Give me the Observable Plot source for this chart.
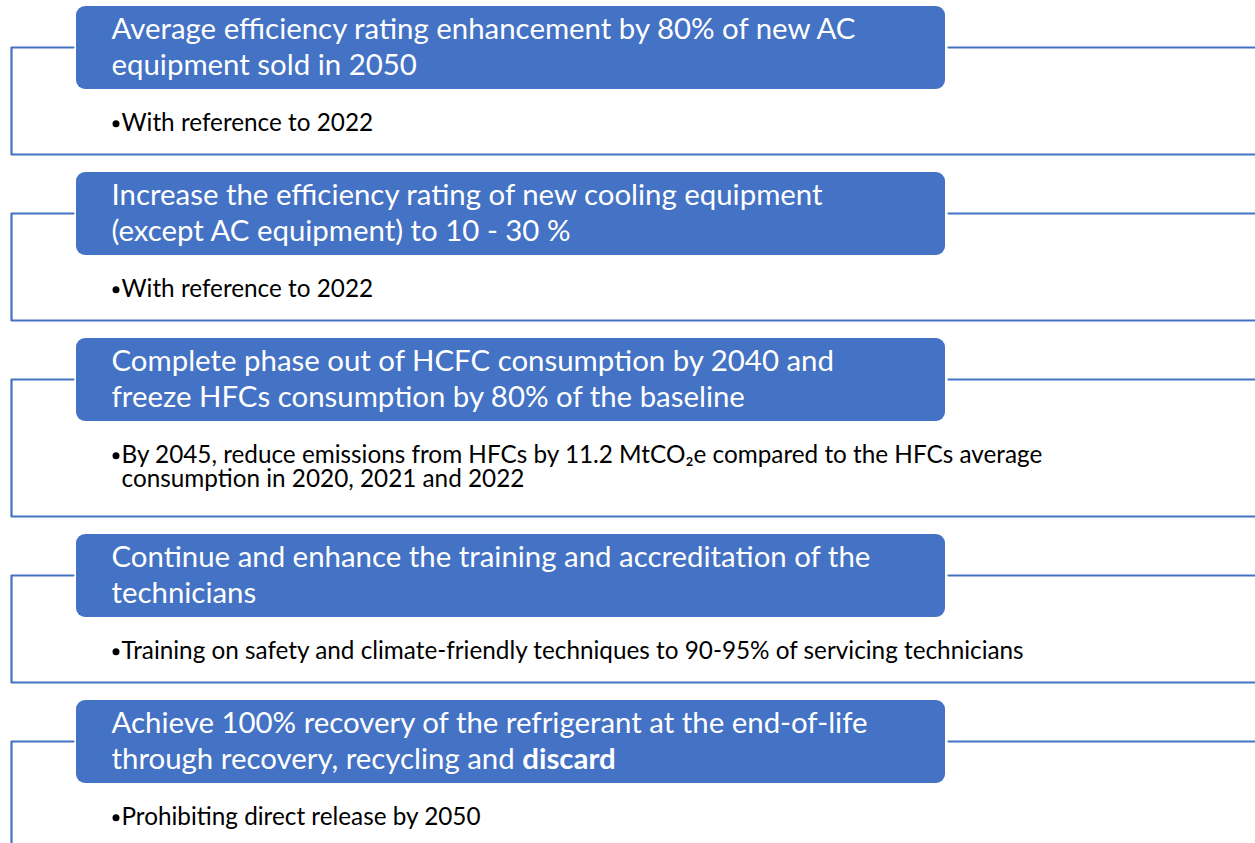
<!DOCTYPE html>
<html><head><meta charset="utf-8">
<script src="https://cdn.jsdelivr.net/npm/d3@7"></script>
<script src="https://cdn.jsdelivr.net/npm/@observablehq/plot@0.6"></script>
<style>html,body{margin:0;padding:0;background:#fff;overflow:hidden}</style>
</head><body><div id="chart"></div>
<script>
// ---- data ----
const titleLine1 = [
  "Average efficiency rating enhancement by 80% of new AC",
  "Increase the efficiency rating of new cooling equipment",
  "Complete phase out of HCFC consumption by 2040 and",
  "Continue and enhance the training and accreditation of the",
  "Achieve 100% recovery of the refrigerant at the end-of-life"
];
const titleLine2 = [
  "equipment sold in 2050",
  "(except AC equipment) to 10 - 30 %",
  "freeze HFCs consumption by 80% of the baseline",
  "technicians",
  "through recovery, recycling and "
];
const titleBold = ["", "", "", "", "discard"];
const bulletLines = [
  ["With reference to 2022"],
  ["With reference to 2022"],
  ["By 2045, reduce emissions from HFCs by 11.2 MtCO\u2082e compared to the HFCs average", "consumption in 2020, 2021 and 2022"],
  ["Training on safety and climate-friendly techniques to 90-95% of servicing technicians"],
  ["Prohibiting direct release by 2050"]
];

// ---- layout ----
const W = 1255, H = 843;
const BLUE = "#4472C4";
const FONT = "Lato, 'Open Sans', sans-serif";
const TITLE_SIZE = 29.4, BULLET_SIZE = 24.3, BULLET_LH = 24.5;
const boxX1 = 76, boxX2 = 945, boxH = 83;
const lineX = 11;
let yCursor = 6;
const panels = titleLine1.map((t, i) => {
  const extra = bulletLines[i].length - 1;
  const p = {i, top: yCursor, outlineTop: yCursor + 41, outlineBottom: yCursor + 148 + 30 * extra};
  yCursor = p.outlineBottom + 18;
  return p;
});

const outline = [];
panels.forEach(p => {
  outline.push({g: p.i + "a", x: boxX1 - 3, y: p.outlineTop});
  outline.push({g: p.i + "a", x: lineX, y: p.outlineTop});
  outline.push({g: p.i + "a", x: lineX, y: p.outlineBottom});
  outline.push({g: p.i + "a", x: W + 5, y: p.outlineBottom});
  outline.push({g: p.i + "b", x: boxX2 + 3, y: p.outlineTop});
  outline.push({g: p.i + "b", x: W + 5, y: p.outlineTop});
});

const titles = [];
panels.forEach(p => {
  titles.push({x: 111, y: p.top + 32, text: titleLine1[p.i]});
  titles.push({x: 111, y: p.top + 68, text: titleLine2[p.i]});
});

const cv = document.createElement("canvas").getContext("2d");
cv.font = `${TITLE_SIZE}px ${FONT}`;
const bolds = panels.filter(p => titleBold[p.i]).map(p => ({
  x: 111 + cv.measureText(titleLine2[p.i]).width, y: p.top + 68, text: titleBold[p.i]
}));

const bullets = panels.map(p => ({
  x: 121,
  y: p.top + 124 + BULLET_LH * (bulletLines[p.i].length - 1),
  dotY: p.top + 124 - 6.7,
  text: bulletLines[p.i].join("\n")
}));

const chart = Plot.plot({
  width: W, height: H,
  margin: 0,
  x: {domain: [0, W], range: [0, W], axis: null},
  y: {domain: [0, H], range: [0, H], axis: null},
  r: {type: "identity"},
  style: {fontFamily: FONT, background: "#fff"},
  marks: [
    Plot.line(outline, {x: "x", y: "y", z: "g", stroke: BLUE, strokeWidth: 2.2, curve: "linear"}),
    Plot.rect(panels, {x1: boxX1, x2: boxX2, y1: "top", y2: d => d.top + boxH, fill: BLUE, rx: 9}),
    Plot.text(titles, {x: "x", y: "y", text: "text", fill: "white", fontSize: TITLE_SIZE, textAnchor: "start", lineAnchor: "bottom"}),
    Plot.text(bolds, {x: "x", y: "y", text: "text", fill: "white", fontSize: TITLE_SIZE, fontWeight: "bold", textAnchor: "start", lineAnchor: "bottom"}),
    Plot.dot(bullets, {x: 115.5, y: "dotY", r: 3.5, fill: "black", stroke: null}),
    Plot.text(bullets, {x: "x", y: "y", text: "text", fill: "black", fontSize: BULLET_SIZE, lineHeight: BULLET_LH / BULLET_SIZE, textAnchor: "start", lineAnchor: "bottom"})
  ]
});
document.getElementById("chart").appendChild(chart);
</script>
</body></html>
